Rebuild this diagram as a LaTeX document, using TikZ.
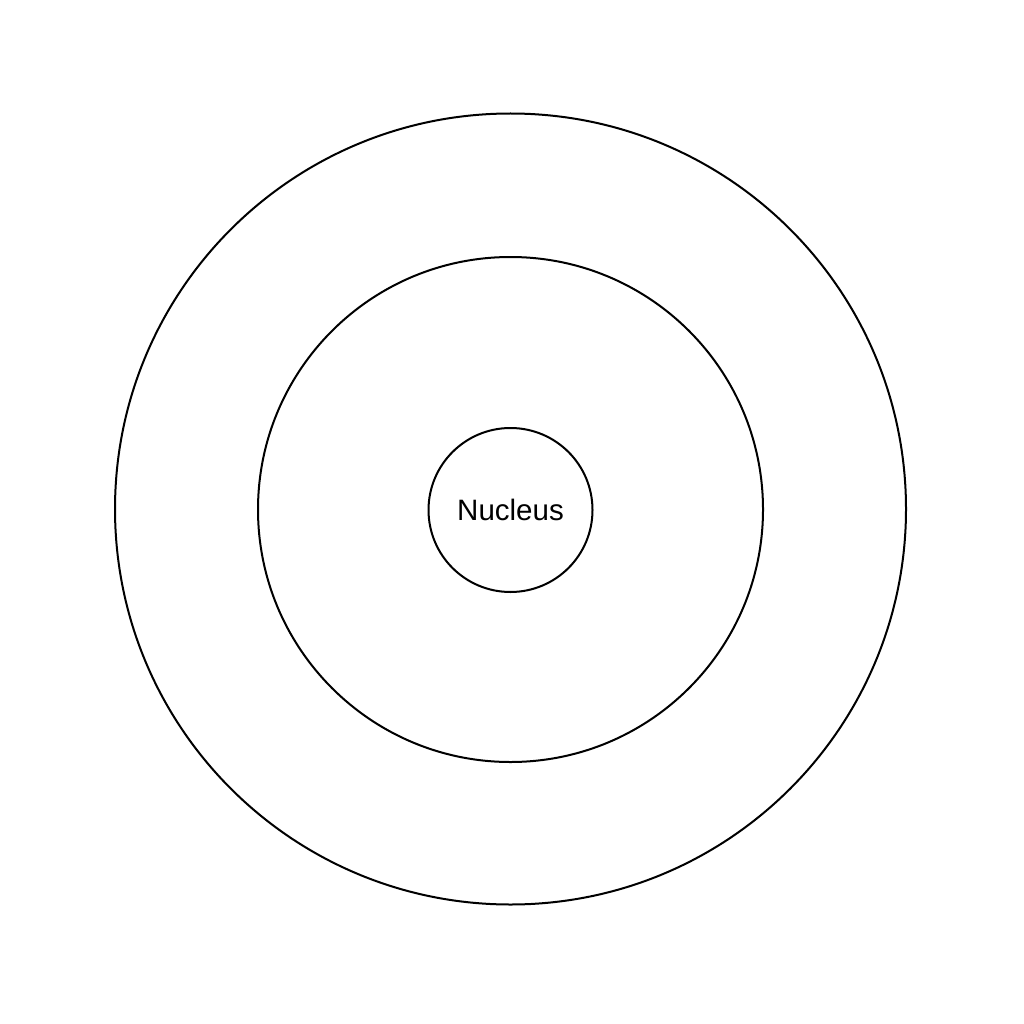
\documentclass[tikz,border=0pt]{standalone}
\usepackage{fontspec}
\setmainfont{Liberation Sans}
\begin{document}
\begin{tikzpicture}[x=1pt,y=-1pt,
  orbit/.style={draw=black,line width=2pt,circle,inner sep=0pt}]
\useasboundingbox[fill=white] (0,0) rectangle (1024,1024);
\draw[line width=2pt] (510.5,509) circle (395.5);
\draw[line width=2pt] (510.5,509.5) circle (252.5);
\node[orbit,minimum size=164pt,font=\fontsize{29.5}{31}\selectfont] (nucleus) at (510.5,510) {Nucleus};
\end{tikzpicture}
\end{document}
